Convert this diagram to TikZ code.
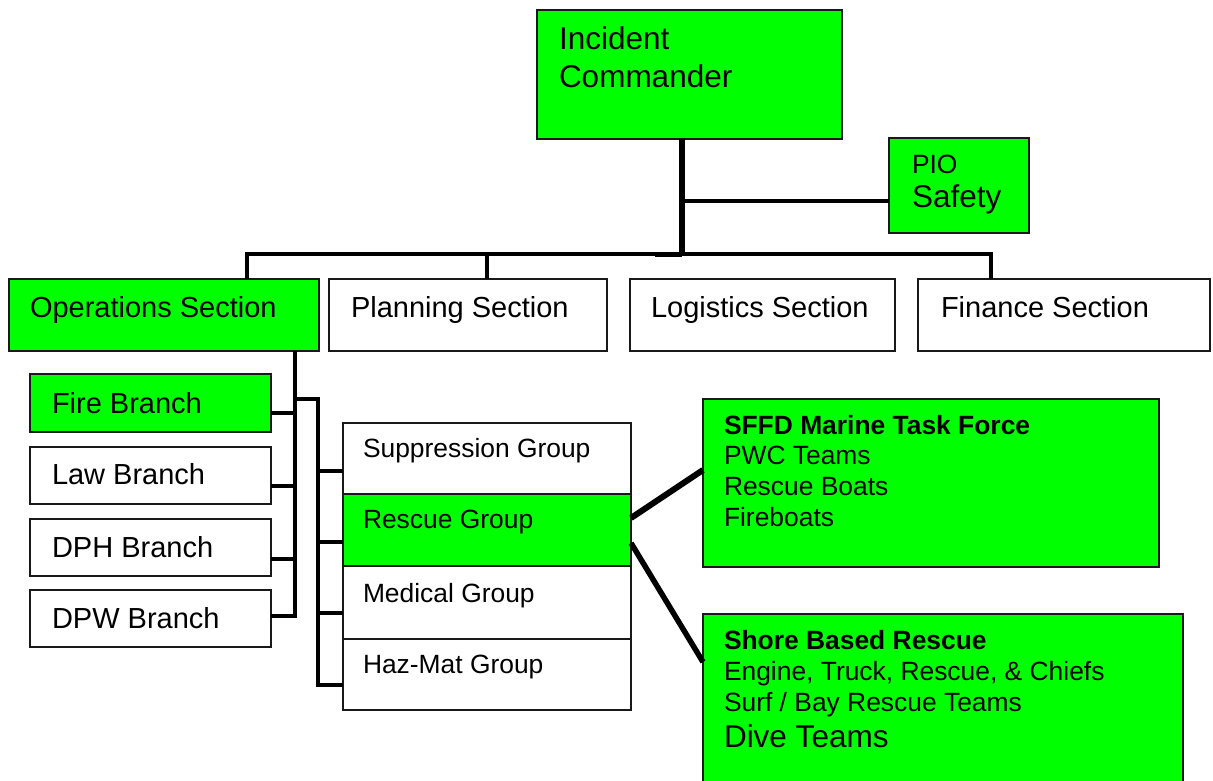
\documentclass[tikz,border=0pt]{standalone}
\usepackage{fontspec}
\setmainfont{Liberation Sans}
\usetikzlibrary{calc}
\definecolor{ig}{RGB}{0,255,0}
\newcommand\fbig{\fontsize{31.5}{36}\selectfont}
\newcommand\fmid{\fontsize{29}{34}\selectfont}
\newcommand\fsml{\fontsize{26.4}{31}\selectfont}
\begin{document}
\begin{tikzpicture}[x=1pt,y=-1pt,
  box/.style={draw=black!90, line width=2pt, inner sep=0pt, outer sep=0pt, anchor=north west},
  hot/.style={fill=ig},
  txt/.style={inner sep=0pt, outer sep=0pt, anchor=base west},
  conn/.style={line width=4pt, line join=miter},
  heavy/.style={line width=6pt}]
\useasboundingbox (0,0) rectangle (1213,781);
\fill[white] (0,0) rectangle (1213,781);
\clip (0,0) rectangle (1213,781);

% command staff
\node[box, hot, minimum width=305, minimum height=129] (ic) at (537,10) {};
\node[box, hot, minimum width=140, minimum height=95] (pio) at (889,138) {};

% sections
\node[box, hot, minimum width=310, minimum height=72] (ops) at (9,279) {};
\node[box, minimum width=278, minimum height=72] (plan) at (329,279) {};
\node[box, minimum width=265, minimum height=72] (log) at (630,279) {};
\node[box, minimum width=292, minimum height=72] (fin) at (918,279) {};

% branches
\node[box, hot, minimum width=241, minimum height=58] (fire) at (30,374) {};
\node[box, minimum width=241, minimum height=57] (law) at (30,447) {};
\node[box, minimum width=241, minimum height=57] (dph) at (30,519) {};
\node[box, minimum width=241, minimum height=57] (dpw) at (30,590) {};

% groups
\node[box, minimum width=288, minimum height=71] (sup) at (343,423) {};
\node[box, hot, minimum width=288, minimum height=72] (res) at (343,494) {};
\node[box, minimum width=288, minimum height=73] (med) at (343,566) {};
\node[box, minimum width=288, minimum height=71] (haz) at (343,639) {};

% rescue resources
\node[box, hot, minimum width=456, minimum height=168] (sffd) at (703,399) {};
\node[box, hot, minimum width=480, minimum height=200] (shore) at (703,614) {};

% labels
\node[txt, font=\fbig] (l-ic1) at (559,50) {Incident};
\node[txt, font=\fbig] (l-ic2) at (559,88) {Commander};
\node[txt, font=\fsml] (l-pio1) at (912,173) {PIO};
\node[txt, font=\fbig] (l-pio2) at (912,207) {Safety};

\node[txt, font=\fmid] (l-ops) at (30,317) {Operations Section};
\node[txt, font=\fmid] (l-plan) at (351,317) {Planning Section};
\node[txt, font=\fmid] (l-log) at (651,317) {Logistics Section};
\node[txt, font=\fmid] (l-fin) at (941,317) {Finance Section};

\node[txt, font=\fmid] (l-fire) at (52,413) {Fire Branch};
\node[txt, font=\fmid] (l-law) at (52,484) {Law Branch};
\node[txt, font=\fmid] (l-dph) at (52,557) {DPH Branch};
\node[txt, font=\fmid] (l-dpw) at (52,628) {DPW Branch};

\node[txt, font=\fsml] (l-sup) at (363,457) {Suppression Group};
\node[txt, font=\fsml] (l-res) at (363,528) {Rescue Group};
\node[txt, font=\fsml] (l-med) at (363,602) {Medical Group};
\node[txt, font=\fsml] (l-haz) at (363,673) {Haz-Mat Group};

\node[txt, font=\fsml\bfseries] (l-sf0) at (724,434) {SFFD Marine Task Force};
\node[txt, font=\fsml] (l-sf1) at (724,464) {PWC Teams};
\node[txt, font=\fsml] (l-sf2) at (724,495) {Rescue Boats};
\node[txt, font=\fsml] (l-sf3) at (724,526) {Fireboats};

\node[txt, font=\fsml\bfseries] (l-sh0) at (724,649) {Shore Based Rescue};
\node[txt, font=\fsml] (l-sh1) at (724,680) {Engine, Truck, Rescue, \& Chiefs};
\node[txt, font=\fsml] (l-sh2) at (724,711) {Surf / Bay Rescue Teams};
\node[txt, font=\fbig] (l-sh3) at (724,747) {Dive Teams};

% junction points
\coordinate (bus) at (682,254);
\coordinate (pj) at (682,201);
\coordinate (busL) at (247,254);
\coordinate (busP) at (487,254);
\coordinate (busR) at (991,254);
\coordinate (b1) at (295,413);
\coordinate (b2) at (295,486);
\coordinate (b3) at (295,559);
\coordinate (b4) at (295,616);
\coordinate (g0) at (318,399);
\coordinate (g1) at (318,471);
\coordinate (g2) at (318,542);
\coordinate (g3) at (318,613);
\coordinate (g4) at (318,685);
\coordinate (r1) at (631,518);
\coordinate (r2) at (631,543);
\coordinate (s1) at (703,470);
\coordinate (s2) at (703,662);

% connectors
\draw[heavy] (ic.south -| bus) -- ([yshift=-2pt]bus);
\draw[line width=4.5pt] (pj) -- (pj -| pio.west);
\draw[conn] (ops.north -| busL) -- (busL) -- (busR) -- (fin.north -| busR);
\draw[conn] (busP) -- (plan.north -| busP);
\draw[line width=5pt] (655,254) -- (bus);

\draw[conn] (ops.south -| b1) -- ([yshift=-2pt]b4);
\foreach \n/\b in {fire/b1, law/b2, dph/b3, dpw/b4}
  \draw[conn] ([xshift=2pt]\b) -- (\b -| \n.east);

\draw[conn] ([xshift=-2pt]g0 -| b1) -- (g0) -- ([yshift=-2pt]g4);
\foreach \n/\g in {sup/g1, res/g2, med/g3, haz/g4}
  \draw[conn] ([xshift=-2pt]\g) -- (\g -| \n.west);

\draw[heavy] (res.east |- r1) -- (sffd.west |- s1);
\draw[line width=5.5pt] (res.east |- r2) -- (shore.west |- s2);
\end{tikzpicture}
\end{document}
